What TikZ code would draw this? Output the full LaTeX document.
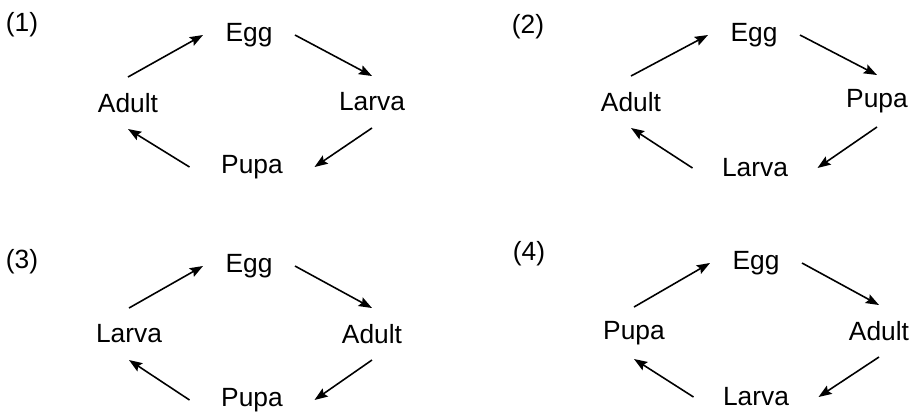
\documentclass[tikz,border=0pt]{standalone}
\usepackage{fontspec}
\setmainfont{Liberation Sans}
\usetikzlibrary{arrows.meta}
\begin{document}
\begin{tikzpicture}[x=0.02cm,y=-0.02cm]
\tikzstyle{every node}+=[inner sep=0pt,outer sep=0pt,font=\fontsize{15}{18}\selectfont]
\tikzstyle{topstage}=[minimum width=1.84cm]
\tikzstyle{sidestage}=[minimum height=1.04cm]
\tikzstyle{lowstage}=[minimum width=2.5cm]
\tikzstyle{cyclearrow}=[black,line width=0.9pt,-{Stealth[length=7.5pt,width=5.5pt,inset=1.2pt]}]
\useasboundingbox (0,0) rectangle (913,414);
\node (num1) at (22,25) {(1)};
\node [topstage] (egg1) at (249,35) {Egg};
\node [sidestage] (adult1) at (128,103) {Adult};
\node [sidestage] (larva1) at (372,102) {Larva};
\node [lowstage] (pupa1) at (252,167) {Pupa};
\draw [cyclearrow] (adult1.north) -- (egg1.west);
\draw [cyclearrow] (egg1.east) -- (larva1.north);
\draw [cyclearrow] (larva1.south) -- (pupa1.east);
\draw [cyclearrow] (pupa1.west) -- (adult1.south);
\node (num2) at (528,27) {(2)};
\node [topstage] (egg2) at (754,35) {Egg};
\node [sidestage] (adult2) at (631,102) {Adult};
\node [sidestage] (pupa2) at (877,101) {Pupa};
\node [lowstage] (larva2) at (755,168) {Larva};
\draw [cyclearrow] (adult2.north) -- (egg2.west);
\draw [cyclearrow] (egg2.east) -- (pupa2.north);
\draw [cyclearrow] (pupa2.south) -- (larva2.east);
\draw [cyclearrow] (larva2.west) -- (adult2.south);
\node (num3) at (22,262) {(3)};
\node [topstage] (egg3) at (249,266) {Egg};
\node [sidestage] (larva3) at (129,334) {Larva};
\node [sidestage] (adult3) at (372,334) {Adult};
\node [lowstage] (pupa3) at (252,400) {Pupa};
\draw [cyclearrow] (larva3.north) -- (egg3.west);
\draw [cyclearrow] (egg3.east) -- (adult3.north);
\draw [cyclearrow] (adult3.south) -- (pupa3.east);
\draw [cyclearrow] (pupa3.west) -- (larva3.south);
\node (num4) at (529,254) {(4)};
\node [topstage] (egg4) at (756,263) {Egg};
\node [sidestage] (pupa4) at (634,333) {Pupa};
\node [sidestage] (adult4) at (879,331) {Adult};
\node [lowstage] (larva4) at (756,397) {Larva};
\draw [cyclearrow] (pupa4.north) -- (egg4.west);
\draw [cyclearrow] (egg4.east) -- (adult4.north);
\draw [cyclearrow] (adult4.south) -- (larva4.east);
\draw [cyclearrow] (larva4.west) -- (pupa4.south);
\end{tikzpicture}
\end{document}
